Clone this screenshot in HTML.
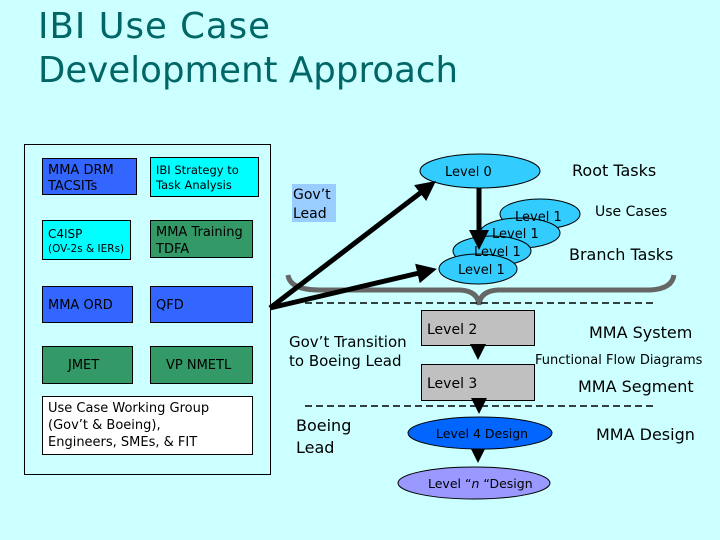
<!DOCTYPE html>
<html><head><meta charset="utf-8"><style>
html,body{margin:0;padding:0;background:#ccffff;}
svg{display:block;}
text{font-family:"DejaVu Sans","Liberation Sans",sans-serif;}
</style></head><body>
<svg width="720" height="540" viewBox="0 0 720 540" xmlns="http://www.w3.org/2000/svg">
<rect width="720" height="540" fill="#ccffff"/>
<defs>
<marker id="ah" markerWidth="4" markerHeight="4" refX="3" refY="2" orient="auto" markerUnits="strokeWidth"><path d="M0,0 L4,2 L0,4 z" fill="#000"/></marker>
</defs>
<text x="38" y="38" font-size="35.5" fill="#006666" textLength="232">IBI Use Case</text>
<text x="38" y="82" font-size="35.5" fill="#006666" textLength="420">Development Approach</text>

<!-- left frame -->
<rect x="24.5" y="144.5" width="246" height="330" fill="none" stroke="#000" stroke-width="1"/>
<g stroke="#000" stroke-width="1">
<rect x="42.5" y="158.5" width="94" height="36" fill="#3366ff"/>
<rect x="150.5" y="157.5" width="108" height="39" fill="#00ffff"/>
<rect x="42.5" y="220.5" width="88" height="39" fill="#00ffff"/>
<rect x="150.5" y="220.5" width="102" height="37" fill="#339966"/>
<rect x="42.5" y="286.5" width="90" height="36" fill="#3366ff"/>
<rect x="150.5" y="286.5" width="102" height="36" fill="#3366ff"/>
<rect x="42.5" y="346.5" width="90" height="37" fill="#339966"/>
<rect x="150.5" y="346.5" width="102" height="37" fill="#339966"/>
<rect x="42.5" y="396.5" width="210" height="58" fill="#ffffff"/>
</g>
<g font-size="13" fill="#000">
<text x="48" y="174">MMA DRM</text><text x="48" y="190">TACSITs</text>
<text x="156" y="174" font-size="11.5">IBI Strategy to</text><text x="156" y="189" font-size="11.5">Task  Analysis</text>
<text x="48" y="238" font-size="12">C4ISP</text><text x="48" y="252" font-size="10.5">(OV-2s &amp; IERs)</text>
<text x="156" y="236">MMA Training</text><text x="156" y="253">TDFA</text>
<text x="48" y="309">MMA ORD</text>
<text x="156" y="309">QFD</text>
<text x="68" y="369">JMET</text>
<text x="166" y="369">VP NMETL</text>
<text x="48" y="412">Use Case Working Group</text>
<text x="48" y="429">(Gov’t &amp; Boeing),</text>
<text x="48" y="446">Engineers, SMEs, &amp; FIT</text>
</g>

<!-- gov't lead -->
<rect x="292" y="184" width="44" height="38" fill="#99ccff"/>
<text x="293" y="199" font-size="14" fill="#000">Gov’t</text>
<text x="293" y="218" font-size="14" fill="#000">Lead</text>

<!-- brace -->
<path d="M288,275 Q290,290 320,290 L460,290 Q478,291 479,305 Q480,291 498,290 L650,290 Q672,289 674,275" fill="none" stroke="#666" stroke-width="5"/>

<!-- level 1 ellipses -->
<g stroke="#000" stroke-width="1" fill="#33ccff">
<ellipse cx="540" cy="214" rx="40" ry="15"/>
<ellipse cx="520" cy="233" rx="40" ry="15"/>
<ellipse cx="492" cy="251" rx="39" ry="15"/>
<ellipse cx="478" cy="269" rx="39" ry="15"/>
<ellipse cx="480" cy="171" rx="60" ry="17"/>
</g>
<g font-size="13" fill="#000">
<text x="515" y="221">Level 1</text>
<text x="492" y="238">Level 1</text>
<text x="474" y="256">Level 1</text>
<text x="458" y="274">Level 1</text>
<text x="445" y="176">Level 0</text>
</g>
<line x1="479" y1="188" x2="479" y2="245" stroke="#000" stroke-width="5" marker-end="url(#ah)"/>

<!-- big arrows -->
<line x1="270" y1="308" x2="432" y2="184" stroke="#000" stroke-width="5" marker-end="url(#ah)"/>
<line x1="270" y1="308" x2="432" y2="270" stroke="#000" stroke-width="5" marker-end="url(#ah)"/>

<!-- dashed lines -->
<line x1="305" y1="303" x2="653" y2="303" stroke="#000" stroke-width="1.5" stroke-dasharray="7,4"/>
<line x1="305" y1="406" x2="653" y2="406" stroke="#000" stroke-width="1.5" stroke-dasharray="7,4"/>

<!-- level 2/3 -->
<rect x="421.5" y="310.5" width="113" height="35" fill="#c0c0c0" stroke="#000"/>
<rect x="421.5" y="364.5" width="113" height="36" fill="#c0c0c0" stroke="#000"/>
<text x="427" y="334" font-size="14">Level 2</text>
<text x="427" y="388" font-size="14">Level 3</text>
<line x1="478" y1="346" x2="478" y2="356" stroke="#000" stroke-width="4" marker-end="url(#ah)"/>
<line x1="479" y1="401" x2="479" y2="410" stroke="#000" stroke-width="4" marker-end="url(#ah)"/>
<line x1="478" y1="450" x2="478" y2="459" stroke="#000" stroke-width="4" marker-end="url(#ah)"/>

<ellipse cx="480" cy="433" rx="72" ry="16" fill="#0066ff" stroke="#000"/>
<text x="436" y="438" font-size="12.5" fill="#000">Level 4 Design</text>
<ellipse cx="474" cy="483" rx="76" ry="16" fill="#9999ff" stroke="#000"/>
<text x="428" y="488" font-size="12.5" fill="#000">Level “<tspan font-style="italic">n</tspan> “Design</text>

<g font-size="15" fill="#000">
<text x="289" y="347">Gov’t Transition</text>
<text x="289" y="366">to Boeing Lead</text>
<text x="296" y="431" font-size="16">Boeing</text>
<text x="296" y="453" font-size="16">Lead</text>
</g>

<g fill="#000">
<text x="572" y="176" font-size="16">Root Tasks</text>
<text x="595" y="216" font-size="14">Use Cases</text>
<text x="569" y="260" font-size="16">Branch Tasks</text>
<text x="589" y="338" font-size="16">MMA System</text>
<text x="535" y="364" font-size="13">Functional Flow Diagrams</text>
<text x="578" y="392" font-size="16">MMA Segment</text>
<text x="596" y="440" font-size="16">MMA Design</text>
</g>
</svg>
</body></html>
